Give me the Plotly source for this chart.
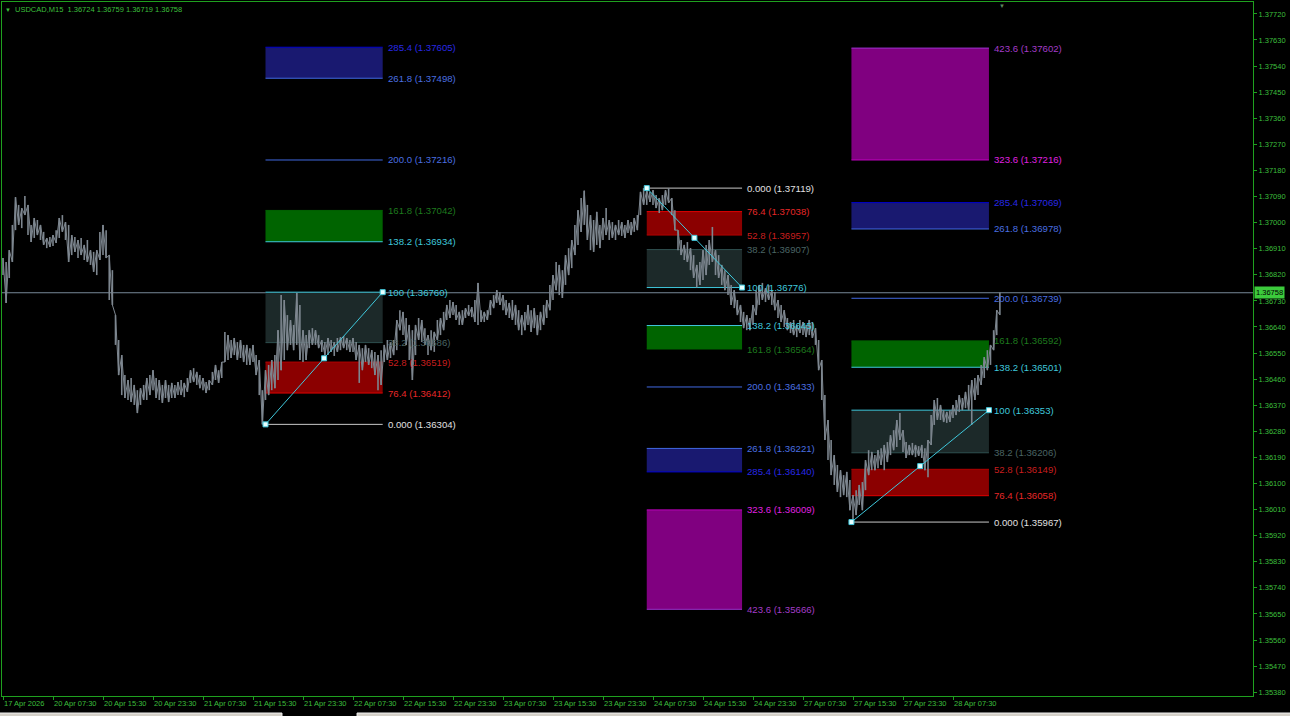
import plotly.graph_objects as go

# ---------------- data ----------------
title_text = "USDCAD,M15  1.36724 1.36759 1.36719 1.36758"
bid_price = 1.36758
bar_step = 2  # each sample below covers 2 M15 bars (30 min), bar 0 = 17 Apr 23:30

bar_hi = [
    1.36878, 1.36864, 1.36905, 1.36992, 1.37088, 1.37061, 1.37050, 1.37092, 1.37061, 1.36992,
    1.37016, 1.37009, 1.36992, 1.36968, 1.36947, 1.36950, 1.36957, 1.36974, 1.37016, 1.37026,
    1.37002, 1.36992, 1.36957, 1.36950, 1.36940, 1.36947, 1.36923, 1.36940, 1.36905, 1.36899,
    1.36905, 1.36968, 1.36992, 1.36974, 1.36888, 1.36836, 1.36681, 1.36595, 1.36543, 1.36474,
    1.36457, 1.36464, 1.36440, 1.36422, 1.36429, 1.36440, 1.36464, 1.36474, 1.36491, 1.36464,
    1.36457, 1.36440, 1.36457, 1.36440, 1.36447, 1.36440, 1.36450, 1.36457, 1.36447, 1.36464,
    1.36491, 1.36498, 1.36485, 1.36474, 1.36464, 1.36450, 1.36457, 1.36485, 1.36509, 1.36491,
    1.36519, 1.36623, 1.36612, 1.36595, 1.36602, 1.36588, 1.36595, 1.36578, 1.36578, 1.36567,
    1.36578, 1.36543, 1.36526, 1.36422, 1.36491, 1.36509, 1.36526, 1.36543, 1.36629, 1.36750,
    1.36733, 1.36681, 1.36664, 1.36647, 1.36757, 1.36716, 1.36629, 1.36612, 1.36629, 1.36636,
    1.36629, 1.36612, 1.36595, 1.36588, 1.36602, 1.36595, 1.36588, 1.36602, 1.36605, 1.36609,
    1.36602, 1.36595, 1.36602, 1.36588, 1.36578, 1.36567, 1.36578, 1.36567, 1.36560, 1.36554,
    1.36543, 1.36560, 1.36578, 1.36595, 1.36588, 1.36595, 1.36664, 1.36698, 1.36692, 1.36671,
    1.36647, 1.36629, 1.36647, 1.36671, 1.36664, 1.36636, 1.36612, 1.36629, 1.36623, 1.36664,
    1.36671, 1.36692, 1.36716, 1.36733, 1.36726, 1.36716, 1.36692, 1.36698, 1.36705, 1.36716,
    1.36709, 1.36733, 1.36792, 1.36698, 1.36692, 1.36698, 1.36733, 1.36750, 1.36767, 1.36761,
    1.36750, 1.36733, 1.36723, 1.36733, 1.36716, 1.36698, 1.36681, 1.36692, 1.36716, 1.36698,
    1.36705, 1.36681, 1.36692, 1.36716, 1.36733, 1.36785, 1.36819, 1.36864, 1.36854, 1.36836,
    1.36888, 1.36912, 1.36940, 1.36992, 1.37043, 1.37085, 1.37110, 1.37061, 1.37026, 1.37009,
    1.37037, 1.36992, 1.37016, 1.37050, 1.37009, 1.37002, 1.36992, 1.37009, 1.37002, 1.36992,
    1.37009, 1.37002, 1.37016, 1.37026, 1.37106, 1.37119, 1.37112, 1.37106, 1.37112, 1.37095,
    1.37085, 1.37095, 1.37112, 1.37119, 1.37085, 1.37043, 1.36974, 1.36940, 1.36923, 1.36933,
    1.36912, 1.36888, 1.36854, 1.36864, 1.36905, 1.36923, 1.36940, 1.36985, 1.36905, 1.36888,
    1.36854, 1.36836, 1.36819, 1.36785, 1.36767, 1.36733, 1.36716, 1.36692, 1.36681, 1.36671,
    1.36716, 1.36767, 1.36785, 1.36792, 1.36774, 1.36785, 1.36767, 1.36761, 1.36733, 1.36716,
    1.36698, 1.36671, 1.36657, 1.36664, 1.36647, 1.36664, 1.36657, 1.36647, 1.36664, 1.36657,
    1.36636, 1.36595, 1.36526, 1.36405, 1.36319, 1.36250, 1.36198, 1.36164, 1.36146, 1.36129,
    1.36140, 1.36112, 1.36060, 1.36077, 1.36095, 1.36105, 1.36181, 1.36215, 1.36209, 1.36198,
    1.36215, 1.36222, 1.36233, 1.36243, 1.36267, 1.36284, 1.36319, 1.36343, 1.36284, 1.36243,
    1.36233, 1.36240, 1.36233, 1.36229, 1.36233, 1.36222, 1.36250, 1.36336, 1.36388, 1.36395,
    1.36371, 1.36353, 1.36347, 1.36353, 1.36371, 1.36388, 1.36405, 1.36395, 1.36416, 1.36440,
    1.36457, 1.36464, 1.36474, 1.36509, 1.36536, 1.36560, 1.36578, 1.36629, 1.36698, 1.36759,
]
bar_lo = [
    1.36819, 1.36723, 1.36809, 1.36864, 1.36974, 1.36992, 1.36981, 1.37026, 1.36957, 1.36933,
    1.36947, 1.36957, 1.36940, 1.36923, 1.36912, 1.36916, 1.36919, 1.36930, 1.36947, 1.36968,
    1.36940, 1.36864, 1.36888, 1.36899, 1.36878, 1.36888, 1.36871, 1.36864, 1.36854, 1.36830,
    1.36819, 1.36871, 1.36888, 1.36878, 1.36733, 1.36716, 1.36578, 1.36474, 1.36405, 1.36395,
    1.36388, 1.36381, 1.36371, 1.36343, 1.36371, 1.36388, 1.36388, 1.36405, 1.36422, 1.36395,
    1.36388, 1.36378, 1.36395, 1.36381, 1.36395, 1.36395, 1.36405, 1.36405, 1.36398, 1.36416,
    1.36447, 1.36450, 1.36440, 1.36429, 1.36422, 1.36412, 1.36422, 1.36440, 1.36457, 1.36447,
    1.36464, 1.36519, 1.36526, 1.36533, 1.36543, 1.36526, 1.36533, 1.36519, 1.36509, 1.36509,
    1.36519, 1.36474, 1.36405, 1.36304, 1.36388, 1.36405, 1.36422, 1.36429, 1.36457, 1.36491,
    1.36526, 1.36560, 1.36578, 1.36560, 1.36578, 1.36526, 1.36519, 1.36526, 1.36567, 1.36578,
    1.36578, 1.36567, 1.36554, 1.36543, 1.36543, 1.36554, 1.36540, 1.36554, 1.36560, 1.36567,
    1.36560, 1.36554, 1.36554, 1.36526, 1.36447, 1.36491, 1.36519, 1.36509, 1.36498, 1.36474,
    1.36422, 1.36440, 1.36519, 1.36526, 1.36533, 1.36543, 1.36560, 1.36629, 1.36612, 1.36578,
    1.36526, 1.36457, 1.36543, 1.36595, 1.36588, 1.36578, 1.36543, 1.36560, 1.36554, 1.36595,
    1.36612, 1.36629, 1.36664, 1.36671, 1.36681, 1.36664, 1.36647, 1.36647, 1.36671, 1.36678,
    1.36674, 1.36657, 1.36647, 1.36657, 1.36657, 1.36664, 1.36681, 1.36705, 1.36723, 1.36716,
    1.36698, 1.36681, 1.36671, 1.36664, 1.36647, 1.36629, 1.36612, 1.36629, 1.36647, 1.36623,
    1.36636, 1.36612, 1.36629, 1.36647, 1.36671, 1.36698, 1.36733, 1.36767, 1.36750, 1.36740,
    1.36785, 1.36819, 1.36843, 1.36888, 1.36923, 1.36968, 1.36992, 1.36940, 1.36905, 1.36899,
    1.36923, 1.36912, 1.36940, 1.36957, 1.36940, 1.36947, 1.36940, 1.36957, 1.36954, 1.36947,
    1.36964, 1.36957, 1.36968, 1.36974, 1.37026, 1.37061, 1.37061, 1.37071, 1.37061, 1.37050,
    1.37033, 1.37043, 1.37061, 1.37068, 1.37026, 1.36974, 1.36905, 1.36888, 1.36871, 1.36864,
    1.36836, 1.36809, 1.36776, 1.36785, 1.36802, 1.36819, 1.36854, 1.36864, 1.36819, 1.36809,
    1.36785, 1.36767, 1.36750, 1.36716, 1.36705, 1.36681, 1.36657, 1.36636, 1.36629, 1.36629,
    1.36647, 1.36681, 1.36716, 1.36733, 1.36726, 1.36733, 1.36716, 1.36698, 1.36671, 1.36657,
    1.36640, 1.36629, 1.36619, 1.36612, 1.36605, 1.36619, 1.36612, 1.36605, 1.36612, 1.36602,
    1.36578, 1.36491, 1.36388, 1.36250, 1.36181, 1.36129, 1.36095, 1.36071, 1.36053, 1.36060,
    1.36053, 1.36008, 1.35967, 1.35991, 1.36026, 1.36008, 1.36077, 1.36129, 1.36146, 1.36146,
    1.36153, 1.36164, 1.36146, 1.36174, 1.36198, 1.36215, 1.36226, 1.36250, 1.36209, 1.36188,
    1.36198, 1.36198, 1.36191, 1.36195, 1.36188, 1.36146, 1.36122, 1.36233, 1.36302, 1.36319,
    1.36319, 1.36312, 1.36309, 1.36312, 1.36326, 1.36336, 1.36347, 1.36353, 1.36360, 1.36353,
    1.36302, 1.36388, 1.36405, 1.36440, 1.36464, 1.36491, 1.36509, 1.36560, 1.36612, 1.36681,
]

tick_bars = [0, 32, 64, 96, 128, 160, 192, 224, 256, 288, 320, 352, 384, 416, 448, 480, 512, 544, 576, 608]
tick_labels = ["17 Apr 2026", "20 Apr 07:30", "20 Apr 15:30", "20 Apr 23:30", "21 Apr 07:30",
               "21 Apr 15:30", "21 Apr 23:30", "22 Apr 07:30", "22 Apr 15:30", "22 Apr 23:30",
               "23 Apr 07:30", "23 Apr 15:30", "23 Apr 23:30", "24 Apr 07:30", "24 Apr 15:30",
               "24 Apr 23:30", "27 Apr 07:30", "27 Apr 15:30", "27 Apr 23:30", "28 Apr 07:30"]
price_ticks = [1.3538, 1.3547, 1.3556, 1.3565, 1.3574, 1.3583, 1.3592, 1.3601, 1.3610, 1.3619,
               1.3628, 1.3637, 1.3646, 1.3655, 1.3664, 1.3673, 1.3682, 1.3691, 1.3700, 1.3709,
               1.3718, 1.3727, 1.3736, 1.3745, 1.3754, 1.3763, 1.3772]

# Fibonacci objects: anchor bars and prices (0 level, 100 level)
fib_t0 = [168, 412, 543]
fib_t1 = [243, 473, 631]
fib_levels = ["0.000", "100", "38.2", "52.8", "76.4", "138.2", "161.8", "200.0", "261.8", "285.4", "323.6", "423.6"]
fib1_prices = [1.36304, 1.36760, 1.36586, 1.36519, 1.36412, 1.36934, 1.37042, 1.37216, 1.37498, 1.37605, None, None]
fib2_prices = [1.37119, 1.36776, 1.36907, 1.36957, 1.37038, 1.36645, 1.36564, 1.36433, 1.36221, 1.36140, 1.36009, 1.35666]
fib3_prices = [1.35967, 1.36353, 1.36206, 1.36149, 1.36058, 1.36501, 1.36592, 1.36739, 1.36978, 1.37069, 1.37216, 1.37602]
fib_prices = [fib1_prices, fib2_prices, fib3_prices]

# ---------------- styles ----------------
BG = "#000000"
FG_LINE = "#1FA01F"
FG_TEXT = "#3CBF3C"
BAR_COLOR = "#7D868F"
FONT = "Liberation Sans"

level_line = {
    "0.000": "#C8C8C8", "100": "#3FC8DC", "38.2": "#2F4F4F", "52.8": "#B00000", "76.4": "#E00000",
    "138.2": "#3FC8DC", "161.8": "#006400", "200.0": "#4169E1", "261.8": "#4169E1", "285.4": "#0000CD",
    "323.6": "#C000C0", "423.6": "#9932CC",
}
level_text = {
    "0.000": "#E0E0E0", "100": "#3FC8DC", "38.2": "#4A6464", "52.8": "#C81E1E", "76.4": "#E62828",
    "138.2": "#3FC8DC", "161.8": "#1E781E", "200.0": "#4A6FE0", "261.8": "#4A6FE0", "285.4": "#2828E6",
    "323.6": "#E020E0", "423.6": "#A43CC8",
}
zones = [("100", "38.2", "#1C2929"), ("52.8", "76.4", "#8B0000"), ("138.2", "161.8", "#006400"),
         ("261.8", "285.4", "#191970"), ("323.6", "423.6", "#800080")]

fig = go.Figure()

# price bars: one vertical high-low stroke per sample, plus a thin line joining them
px_, py_ = [], []
for k, (h, l) in enumerate(zip(bar_hi, bar_lo)):
    b = k * bar_step
    px_ += [b, b, None]
    py_ += [l, h, None]
fig.add_trace(go.Scatter(x=px_, y=py_, mode="lines", line=dict(color=BAR_COLOR, width=1.6),
                         connectgaps=False, hoverinfo="skip", showlegend=False))
cx, cy = [], []
for k, (h, l) in enumerate(zip(bar_hi, bar_lo)):
    cx.append(k * bar_step)
    cy.append(h if k % 2 == 0 else l)
fig.add_trace(go.Scatter(x=cx, y=cy, mode="lines", line=dict(color=BAR_COLOR, width=1),
                         hoverinfo="skip", showlegend=False))

shapes = []
annotations = []
for f in range(3):
    t0, t1 = fib_t0[f], fib_t1[f]
    prices = dict(zip(fib_levels, fib_prices[f]))
    for a, b, col in zones:
        if prices[a] is None or prices[b] is None:
            continue
        shapes.append(dict(type="rect", xref="x", yref="y", x0=t0, x1=t1, y0=prices[a], y1=prices[b],
                           fillcolor=col, line=dict(width=0), layer="below"))
    for lvl in fib_levels:
        p = prices[lvl]
        if p is None:
            continue
        shapes.append(dict(type="line", xref="x", yref="y", x0=t0, x1=t1, y0=p, y1=p,
                           line=dict(color=level_line[lvl], width=1), layer="below"))
        annotations.append(dict(x=t1, y=p, xref="x", yref="y", text=f"{lvl} ({p:.5f})", showarrow=False,
                                xanchor="left", yanchor="middle", xshift=3,
                                font=dict(family=FONT, size=9.6, color=level_text[lvl])))
    p0, p1 = prices["0.000"], prices["100"]
    fig.add_trace(go.Scatter(x=[t0, (t0 + t1) / 2, t1], y=[p0, (p0 + p1) / 2, p1], mode="lines+markers",
                             line=dict(color="#3FC8DC", width=1),
                             marker=dict(symbol="square", size=5, color="#E8FFFF",
                                         line=dict(color="#3FC8DC", width=1)),
                             hoverinfo="skip", showlegend=False))

# bid line
shapes.append(dict(type="line", xref="paper", yref="y", x0=0, x1=1, y0=bid_price, y1=bid_price,
                   line=dict(color="#778899", width=1), layer="below"))
# bottom window tabs strip
shapes.append(dict(type="rect", xref="paper", yref="paper", x0=-0.002, x1=0.2238, y0=-0.0245, y1=-0.031,
                   fillcolor="#D4D0C8", line=dict(color="#F0F0F0", width=1)))
shapes.append(dict(type="rect", xref="paper", yref="paper", x0=0.2838, x1=1.03, y0=-0.0245, y1=-0.031,
                   fillcolor="#D4D0C8", line=dict(color="#F0F0F0", width=1)))

# bid price tag on axis
annotations.append(dict(xref="paper", yref="y", x=1, y=bid_price, text=f"{bid_price:.5f}", showarrow=False,
                        xanchor="left", yanchor="middle", xshift=1, bgcolor="#3CCB3C", borderpad=1,
                        font=dict(family=FONT, size=7.5, color="#000000")))
# title
annotations.append(dict(xref="paper", yref="paper", x=0, y=1, text="▼", showarrow=False, xanchor="left",
                        yanchor="top", xshift=1, yshift=-3, font=dict(family=FONT, size=6, color=FG_TEXT)))
annotations.append(dict(xref="paper", yref="paper", x=0, y=1, text=title_text, showarrow=False, xanchor="left",
                        yanchor="top", xshift=11, yshift=-1, font=dict(family=FONT, size=7.5, color=FG_TEXT)))
# chart shift marker
annotations.append(dict(xref="paper", yref="paper", x=0.7994, y=1, text="▼", showarrow=False, xanchor="center",
                        yanchor="top", yshift=1, font=dict(family=FONT, size=6, color="#5F8A5F")))

fig.update_layout(
    width=1290, height=716,
    margin=dict(l=2, r=37, t=2, b=20, autoexpand=False),
    paper_bgcolor=BG, plot_bgcolor=BG,
    shapes=shapes, annotations=annotations,
    showlegend=False,
    xaxis=dict(range=[-0.64, 800], tickmode="array", tickvals=tick_bars, ticktext=tick_labels,
               showgrid=False, zeroline=False, showline=True, mirror=True, linecolor=FG_LINE, linewidth=1,
               ticks="outside", ticklen=3, tickcolor=FG_LINE, ticklabelposition="outside right",
               tickangle=0, automargin=False,
               tickfont=dict(family=FONT, size=7.5, color=FG_TEXT)),
    yaxis=dict(range=[1.35367, 1.37761], side="right", tickmode="array", tickvals=price_ticks,
               tickformat=".5f", showgrid=False, zeroline=False, showline=True, mirror=True,
               linecolor=FG_LINE, linewidth=1, ticks="outside", ticklen=3, tickcolor=FG_LINE,
               automargin=False,
               tickfont=dict(family=FONT, size=7.5, color=FG_TEXT)),
)

fig.write_html("out.html")
